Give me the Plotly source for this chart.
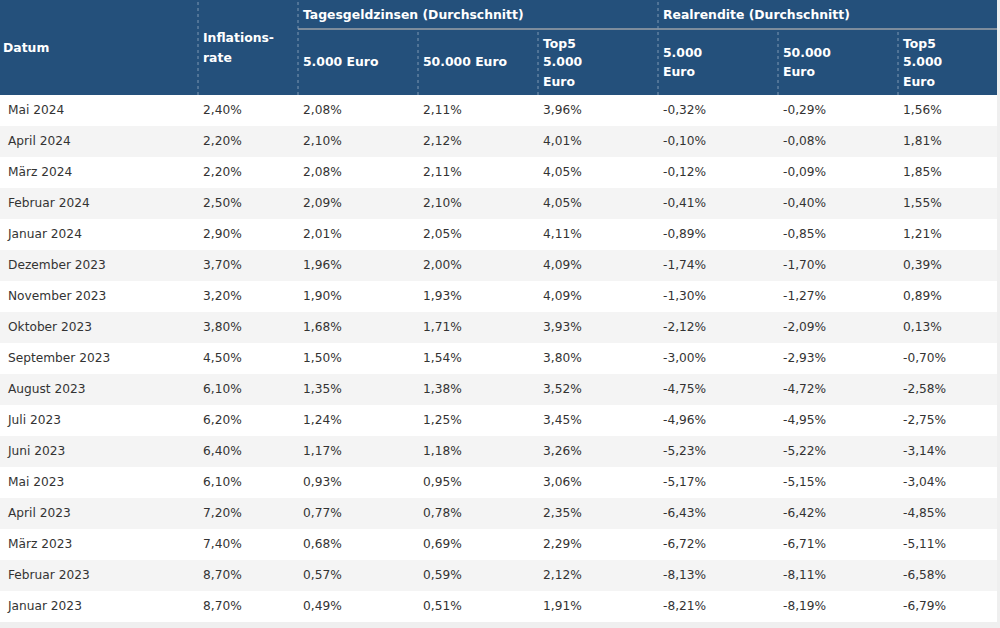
import plotly.graph_objects as go

# ---------------- data ----------------
months = ["Mai 2024", "April 2024", "März 2024", "Februar 2024", "Januar 2024",
          "Dezember 2023", "November 2023", "Oktober 2023", "September 2023",
          "August 2023", "Juli 2023", "Juni 2023", "Mai 2023", "April 2023",
          "März 2023", "Februar 2023", "Januar 2023"]
inflation = [2.40, 2.20, 2.20, 2.50, 2.90, 3.70, 3.20, 3.80, 4.50, 6.10, 6.20, 6.40,
             6.10, 7.20, 7.40, 8.70, 8.70]
tg_5000 = [2.08, 2.10, 2.08, 2.09, 2.01, 1.96, 1.90, 1.68, 1.50, 1.35, 1.24, 1.17,
           0.93, 0.77, 0.68, 0.57, 0.49]
tg_50000 = [2.11, 2.12, 2.11, 2.10, 2.05, 2.00, 1.93, 1.71, 1.54, 1.38, 1.25, 1.18,
            0.95, 0.78, 0.69, 0.59, 0.51]
tg_top5 = [3.96, 4.01, 4.05, 4.05, 4.11, 4.09, 4.09, 3.93, 3.80, 3.52, 3.45, 3.26,
           3.06, 2.35, 2.29, 2.12, 1.91]
rr_5000 = [-0.32, -0.10, -0.12, -0.41, -0.89, -1.74, -1.30, -2.12, -3.00, -4.75,
           -4.96, -5.23, -5.17, -6.43, -6.72, -8.13, -8.21]
rr_50000 = [-0.29, -0.08, -0.09, -0.40, -0.85, -1.70, -1.27, -2.09, -2.93, -4.72,
            -4.95, -5.22, -5.15, -6.42, -6.71, -8.11, -8.19]
rr_top5 = [1.56, 1.81, 1.85, 1.55, 1.21, 0.39, 0.89, 0.13, -0.70, -2.58, -2.75,
           -3.14, -3.04, -4.85, -5.11, -6.58, -6.79]

group_titles = ["Tagesgeldzinsen (Durchschnitt)", "Realrendite (Durchschnitt)"]
column_headers = [["Datum"], ["Inflations-", "rate"], ["5.000 Euro"], ["50.000 Euro"],
                  ["Top5", "5.000", "Euro"], ["5.000", "Euro"], ["50.000", "Euro"],
                  ["Top5", "5.000", "Euro"]]

# ---------------- styling ----------------
W, H = 1000, 628
col_w = [198, 100, 120, 120, 120, 120, 120, 99]
header_h = 95
group_h = 29
row_h = 31
spacer_h = 20          # invisible table header row, sits inside the blue header band
text_shift = 3         # table cell padding is 8px, reference text sits ~5px from the edge
text_drop = 2          # reference text sits slightly lower inside its row
blue = "#24507b"
sep = "#7d97b3"
group_sep = "#7d8c9c"
gray_row = "#f4f4f4"
txt = "#333333"
font_family = "DejaVu Sans"


def pct(v):
    return f"{v:.2f}".replace(".", ",") + "%"


columns = [months] + [[pct(v) for v in s] for s in
                      [inflation, tg_5000, tg_50000, tg_top5, rr_5000, rr_50000, rr_top5]]
n = len(months)
row_fill = ["white" if i % 2 == 0 else gray_row for i in range(n)]

edges = [0]
for w in col_w:
    edges.append(edges[-1] + w)
total_w = edges[-1]

tcol_w = list(col_w)
tcol_w[0] -= text_shift
tcol_w[-1] += text_shift


def px(x):
    return x / W


def py(y):
    return 1 - y / H


def table(top, fills, font_color):
    return go.Table(
        domain=dict(x=[0, px(total_w)], y=[0, py(top - spacer_h)]),
        columnwidth=tcol_w,
        header=dict(values=[""] * len(columns), height=spacer_h,
                    line=dict(width=0, color="rgba(0,0,0,0)"),
                    fill=dict(color="rgba(0,0,0,0)"), font=dict(size=1)),
        cells=dict(
            values=columns,
            height=row_h,
            align="left",
            fill=dict(color=fills),
            line=dict(width=0, color="rgba(0,0,0,0)"),
            font=dict(family=font_family, size=12.2, color=font_color),
        ),
    )


fig = go.Figure()
fig.add_trace(table(header_h, [row_fill] * len(columns), "rgba(0,0,0,0)"))
fig.add_trace(table(header_h + text_drop, "rgba(0,0,0,0)", txt))

shapes = [dict(type="rect", xref="paper", yref="paper", x0=0, x1=px(total_w),
               y0=py(header_h), y1=1, fillcolor=blue, line=dict(width=0), layer="below")]
shapes.append(dict(type="line", xref="paper", yref="paper", x0=px(edges[2]), x1=px(total_w),
                   y0=py(group_h), y1=py(group_h), line=dict(color=group_sep, width=2)))
for i in range(1, len(col_w)):
    full = i in (1, 2, 5)
    shapes.append(dict(type="line", xref="paper", yref="paper", x0=px(edges[i]), x1=px(edges[i]),
                       y0=py(header_h), y1=1 if full else py(group_h),
                       line=dict(color=sep, width=1, dash="dot")))

annotations = []
hfont = dict(family=font_family, size=12.4, color="white", weight="bold")


def hx(ci):
    return px(edges[ci] + (1 if ci == 0 else 3))


for title, ci in zip(group_titles, [2, 5]):
    annotations.append(dict(x=hx(ci), y=py(group_h / 2), xref="paper", yref="paper",
                            text=title, showarrow=False, xanchor="left", yanchor="middle",
                            font=hfont))
line_gap = 19
for ci, lines in enumerate(column_headers):
    if ci < 2:
        center = header_h / 2
    else:
        center = group_h + (header_h - group_h) / 2
    k = len(lines)
    for li, t in enumerate(lines):
        yc = center + (li - (k - 1) / 2) * line_gap
        annotations.append(dict(x=hx(ci), y=py(yc), xref="paper", yref="paper",
                                text=t, showarrow=False, xanchor="left", yanchor="middle",
                                font=hfont))

fig.update_layout(
    width=W, height=H,
    margin=dict(l=0, r=0, t=0, b=0),
    paper_bgcolor="#efefef",
    plot_bgcolor="#efefef",
    shapes=shapes,
    annotations=annotations,
)

fig.write_html("out.html", config={"displayModeBar": False},
               post_script="document.body.style.margin='0';")
